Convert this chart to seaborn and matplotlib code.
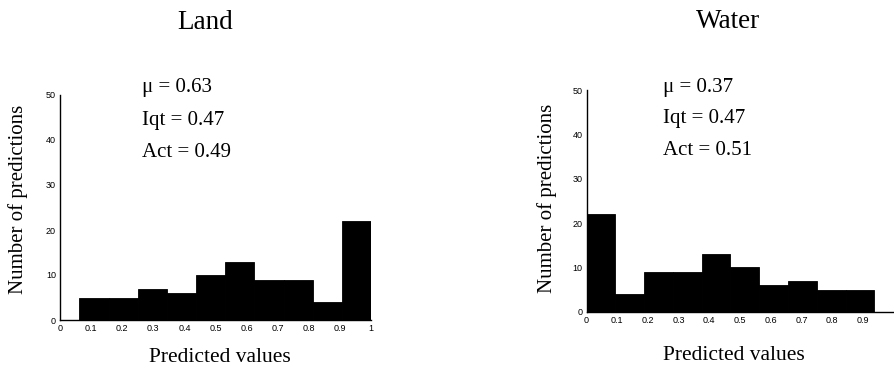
import numpy as np
import pandas as pd
import matplotlib
matplotlib.use("Agg")
import matplotlib.pyplot as plt
import seaborn as sns

# Histogram counts of the predicted values, ten bins per panel
land_counts = [5, 5, 7, 6, 10, 13, 9, 9, 4, 22]
water_counts = [22, 4, 9, 9, 13, 10, 6, 7, 5, 5]
land_range = (0.0625, 1.0)
water_range = (0.0, 0.9375)
n_bins = 10

land_stats = ["\u03bc = 0.63", "Iqt = 0.47", "Act = 0.49"]
water_stats = ["\u03bc = 0.37", "Iqt = 0.47", "Act = 0.51"]

land_xticks = [0, 0.1, 0.2, 0.3, 0.4, 0.5, 0.6, 0.7, 0.8, 0.9, 1]
water_xticks = [0, 0.1, 0.2, 0.3, 0.4, 0.5, 0.6, 0.7, 0.8, 0.9]
yticks = [0, 10, 20, 30, 40, 50]

sns.set_style("white")
plt.rcParams["font.family"] = ["Liberation Serif", "DejaVu Serif"]
plt.rcParams["text.color"] = "black"
plt.rcParams["xtick.color"] = "black"
plt.rcParams["ytick.color"] = "black"

W, H = 894, 371
fig = plt.figure(figsize=(W / 100, H / 100), dpi=100)


def px(x, y):
    return x / W, 1 - y / H


def panel(rect, counts, rng, xticks, title, title_xy, stats, stats_x, stats_y,
          ylab_xy, xlab_xy):
    ax = fig.add_axes(rect)
    width = (rng[1] - rng[0]) / n_bins
    centers = [rng[0] + width * (i + 0.5) for i in range(n_bins)]
    df = pd.DataFrame({"value": centers, "count": counts})
    sns.histplot(data=df, x="value", weights="count", bins=n_bins,
                 binrange=rng, ax=ax, color="black", alpha=1,
                 edgecolor="black", linewidth=0.6)
    ax.set_xlim(0, 1)
    ax.set_ylim(0, 50)
    ax.set_xticks(xticks)
    ax.set_xticklabels([("%g" % t) for t in xticks])
    ax.set_yticks(yticks)
    ax.set_yticklabels([str(t) for t in yticks])
    for lab in ax.get_xticklabels() + ax.get_yticklabels():
        lab.set_fontfamily("Liberation Sans")
        lab.set_fontsize(6.5)
        lab.set_color("black")
    ax.tick_params(direction="in", length=2.5, width=0.8, pad=3, colors="black")
    sns.despine(ax=ax)
    for s in ("left", "bottom"):
        ax.spines[s].set_linewidth(1.0)
        ax.spines[s].set_color("black")
    ax.set_xlabel("")
    ax.set_ylabel("")
    fig.text(*px(*title_xy), title, ha="center", va="baseline", fontsize=19.5,
             color="black")
    for s, y in zip(stats, stats_y):
        fig.text(*px(stats_x, y), s, ha="left", va="baseline", fontsize=15,
                 color="black")
    fig.text(*px(*ylab_xy), "Number of predictions", ha="center",
             va="center", rotation=90, fontsize=15, color="black")
    fig.text(*px(*xlab_xy), "Predicted values", ha="center", va="baseline",
             fontsize=15.5, color="black")
    return ax


panel([60 / W, 51 / H, 311 / W, 225 / H], land_counts, land_range, land_xticks,
      "Land", (205.5, 29), land_stats, 142, [92, 125, 157],
      (18, 199), (220, 362))
panel([586.5 / W, 59.3 / H, 307 / W, 221.7 / H], water_counts, water_range,
      water_xticks, "Water", (728.5, 28), water_stats, 663, [92, 123, 155],
      (547, 198), (734, 360))

fig.savefig("out.png", dpi=100)
